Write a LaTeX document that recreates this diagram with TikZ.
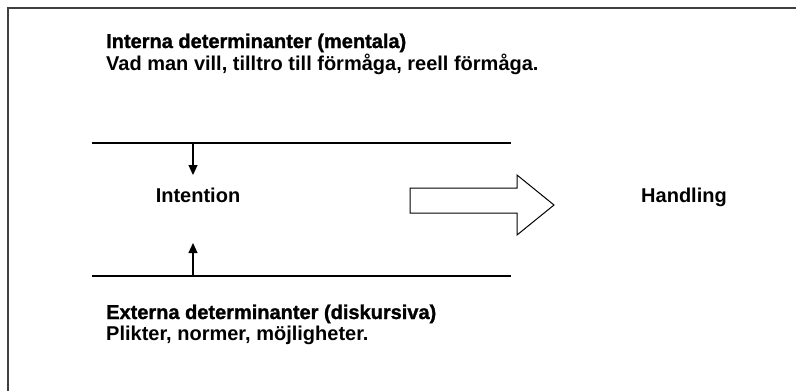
\documentclass[tikz,border=0pt]{standalone}
\usepackage{fontspec}
\setmainfont{Liberation Sans}
\newfontfamily\heavyfont[BoldFeatures={FakeBold=1.3}]{Liberation Sans}
\usetikzlibrary{arrows.meta,positioning}

\begin{document}
\begin{tikzpicture}[x=1pt,y=-1pt,
    frame/.style={draw=black!75,line width=2pt},
    rule/.style={draw,line width=1.2pt},
    push/.style={-{Triangle[length=10pt,width=9pt]},line width=1.2pt},
    head/.style={font=\heavyfont\bfseries\fontsize{20}{24}\selectfont,inner sep=0pt,anchor=base west},
    body/.style={font=\bfseries\fontsize{20}{24}\selectfont,inner sep=0pt,anchor=base west},
    term/.style={font=\bfseries\fontsize{20}{24}\selectfont,inner sep=0pt,anchor=base}]
   \useasboundingbox (0,0) rectangle (796,391);
   \draw[frame] (8,391) -- (8,8) -- (796,8);

   \node[head] (inthead) at (106,48) {Interna determinanter (mentala)};
   \node[body] (intbody) at (106,70) {Vad man vill, tilltro till förmåga, reell förmåga.};

   \coordinate (topl) at (92,143);
   \coordinate (topr) at (511,143);
   \coordinate (topa) at (193,143);
   \coordinate (topt) at (193,175);
   \coordinate (botl) at (92,276);
   \coordinate (botr) at (511,276);
   \coordinate (bota) at (193,276);
   \coordinate (bott) at (193,243);

   \node[term] (intention) at (198,202) {Intention};
   \node[term] (handling) at (684,202) {Handling};

   \draw[rule] (topl) -- (topr);
   \draw[rule] (botl) -- (botr);
   \draw[push] (topa) -- (topt);
   \draw[push] (bota) -- (bott);

   % block arrow
   \draw[line width=1pt,line join=miter]
     (410,188) -- (517,188) -- (517,175) -- (554,205) -- (517,235)
     -- (517,213) -- (410,213) -- cycle;

   \node[head] (exthead) at (106,319) {Externa determinanter (diskursiva)};
   \node[body] (extbody) at (106,340) {Plikter, normer, möjligheter.};
\end{tikzpicture}
\end{document}
